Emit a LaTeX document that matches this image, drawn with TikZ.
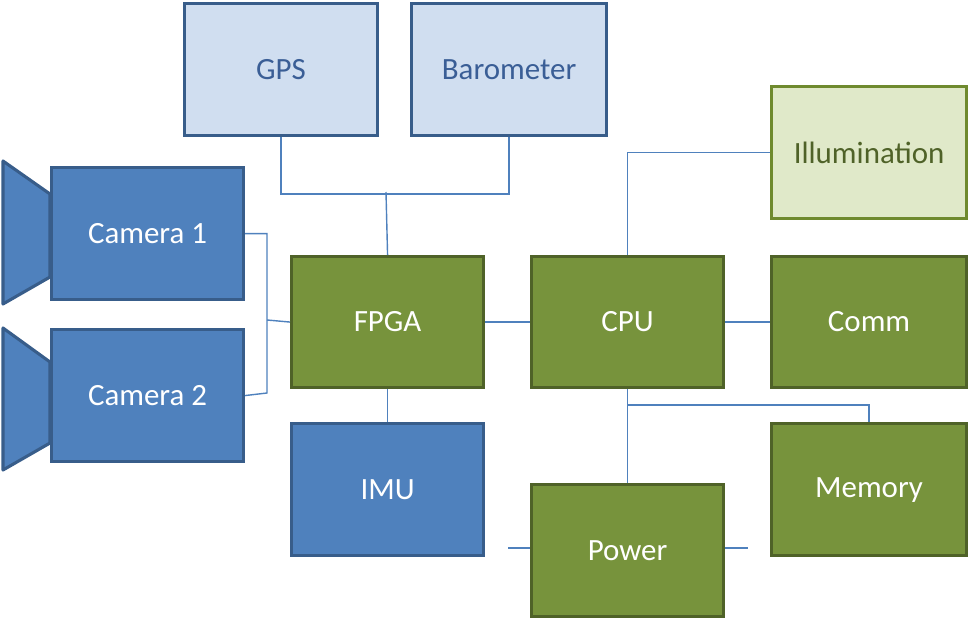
\documentclass[tikz,border=0pt]{standalone}
\usepackage{fontspec}
\setmainfont{Carlito}
\definecolor{bfill}{HTML}{4F81BD}
\definecolor{bdraw}{HTML}{385D8A}
\definecolor{lbfill}{HTML}{D0DEF0}
\definecolor{gfill}{HTML}{77933C}
\definecolor{gdraw}{HTML}{4F6228}
\definecolor{lgfill}{HTML}{E0E9C9}
\definecolor{lgdraw}{HTML}{6F8A2E}
\definecolor{ltext}{HTML}{3A5E96}
\definecolor{lgtext}{HTML}{4F6228}
\begin{document}
\begin{tikzpicture}[x=0.025cm,y=-0.025cm,
  box/.style={rectangle,line width=2.2pt,minimum width=4.8cm,minimum height=3.3cm,font=\fontsize{22}{26}\selectfont,anchor=north west,inner sep=0},
  blue/.style={box,fill=bfill,draw=bdraw,text=white},
  lblue/.style={box,fill=lbfill,draw=bdraw,text=ltext},
  green/.style={box,fill=gfill,draw=gdraw,text=white},
  lgreen/.style={box,fill=lgfill,draw=lgdraw,text=lgtext},
  wire/.style={draw=bfill,line width=1pt}]
\useasboundingbox (0,0) rectangle (969,619);
% lenses
\filldraw[fill=bfill,draw=bdraw,line width=2.2pt,line join=round] (3,161) -- (50,194) -- (50,277) -- (3,304) -- cycle;
\filldraw[fill=bfill,draw=bdraw,line width=2.2pt,line join=round] (3,328) -- (50,362) -- (50,443) -- (3,470) -- cycle;
\node[lblue,minimum width=4.825cm] (gps) at (183,2) {GPS};
\node[lblue,minimum width=4.875cm] (baro) at (410,2) {Barometer};
\node[lgreen,minimum width=4.875cm] (ill) at (770,85) {Illumination};
\node[blue,minimum height=3.3cm] (cam1) at (50,166) {Camera 1};
\node[blue] (cam2) at (50,328) {Camera 2};
\node[green,minimum height=3.275cm] (fpga) at (290,255) {FPGA};
\node[green,minimum height=3.275cm] (cpu) at (530,255) {CPU};
\node[green,minimum width=4.875cm,minimum height=3.275cm] (comm) at (770,255) {Comm};
\node[blue] (imu) at (290,422) {IMU};
\node[green,minimum width=4.875cm] (mem) at (770,422) {Memory};
\node[green] (pow) at (530,483) {Power};
\coordinate (pl) at (508,548);
\coordinate (pr) at (748,548);
\begin{scope}[on background layer/.style={}]
\draw[wire] (gps.south) -- ++(0,57) -| (baro.south);
\draw[wire] (fpga.north) -- (386,192);
\draw[wire] (cam1.east) -| (267,393) -- (cam2.east);
\draw[wire] (267,320) -- (fpga.west);
\draw[wire] (fpga.east) -- (cpu.west);
\draw[wire] (cpu.north) |- (ill.west);
\draw[wire] (cpu.east) -- (comm.east -| comm.west);
\draw[wire] (cpu.south) -- (pow.north);
\draw[wire] (627,405) -| (mem.north);
\draw[wire] (fpga.south) -- (imu.north);
\draw[wire] (pl) -- (pow.west |- pl);
\draw[wire] (pow.east |- pr) -- (pr);
\end{scope}
\end{tikzpicture}
\end{document}
